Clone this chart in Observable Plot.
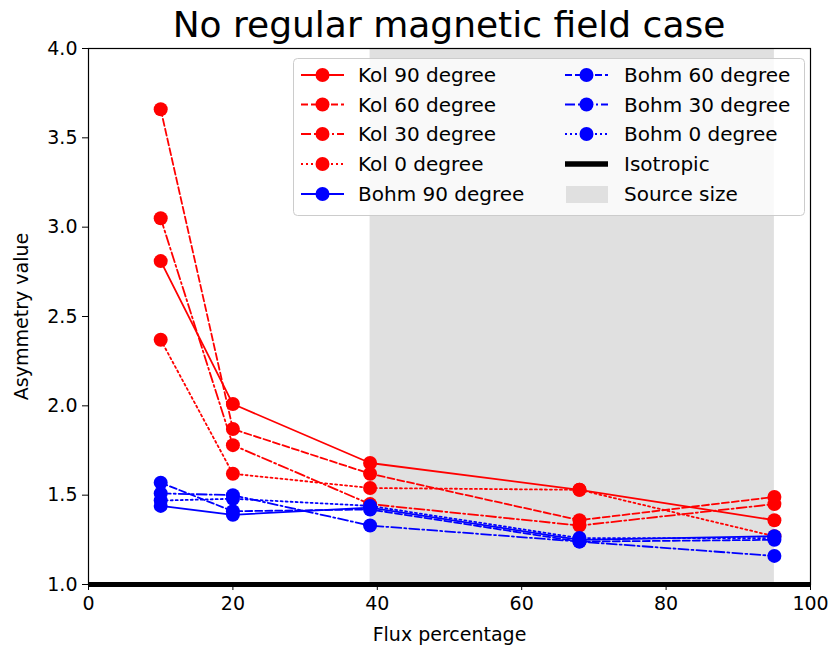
<!DOCTYPE html>
<html>
<head>
<meta charset="utf-8">
<script src="https://cdn.jsdelivr.net/npm/d3@7"></script>
<script src="https://cdn.jsdelivr.net/npm/@observablehq/plot@0.6"></script>
<style>
  body { margin: 0; background: #fff; font-family: "DejaVu Sans", sans-serif; }
  #wrap { position: relative; width: 833px; height: 650px; }
  #title { position: absolute; left: 0; top: 0; width: 898px; height: 30px; text-align: center; font-size: 36px; line-height: 50px; color: #000; z-index: 2; }
  #chart { position: absolute; left: 0; top: 30px; }
  #legend { position: absolute; left: 0; top: 0; }
</style>
</head>
<body>
<div id="wrap">
  <div id="title">No regular magnetic field case</div>
  <div id="chart"></div>
  <svg id="legend" width="833" height="650"></svg>
</div>
<script>
// ---- data ----
const flux = [10, 20, 39, 68, 95];
const kol90 = [2.81, 2.01, 1.68, 1.53, 1.36];
const kol60 = [3.66, 1.87, 1.62, 1.36, 1.49];
const kol30 = [3.05, 1.78, 1.45, 1.33, 1.45];
const kol0  = [2.37, 1.62, 1.54, 1.53, 1.27];
const bohm90 = [1.44, 1.39, 1.43, 1.25, 1.27];
const bohm60 = [1.57, 1.41, 1.42, 1.24, 1.25];
const bohm30 = [1.51, 1.50, 1.33, 1.24, 1.16];
const bohm0  = [1.47, 1.48, 1.44, 1.26, 1.26];
const seriesNames = ["Kol 90 degree", "Kol 60 degree", "Kol 30 degree", "Kol 0 degree",
                     "Bohm 90 degree", "Bohm 60 degree", "Bohm 30 degree", "Bohm 0 degree"];
const seriesValues = [kol90, kol60, kol30, kol0, bohm90, bohm60, bohm30, bohm0];
const sourceSize = [39, 95];
const isotropic = 1.0;
const xTicks = [0, 20, 40, 60, 80, 100];
const yTicks = [1.0, 1.5, 2.0, 2.5, 3.0, 3.5, 4.0];

// ---- styles ----
const RED = "#ff0000", BLUE = "#0000ff";
const colors = [RED, RED, RED, RED, BLUE, BLUE, BLUE, BLUE];
const DASH = { solid: null, dashed: "7,3", dashdot: "10,3,2,3", dotted: "2,3" };
const styles = ["solid", "dashed", "dashdot", "dotted", "solid", "dashed", "dashdot", "dotted"];

const series = seriesNames.map((name, i) => ({
  name, color: colors[i], dash: DASH[styles[i]],
  data: flux.map((x, j) => ({ x, y: seriesValues[i][j] }))
}));

const marks = [
  Plot.rect([{ x1: sourceSize[0], x2: sourceSize[1], y1: yTicks[0], y2: yTicks[yTicks.length - 1] }],
    { x1: "x1", x2: "x2", y1: "y1", y2: "y2", fill: "#e0e0e0" }),
];
series.forEach(s => {
  marks.push(Plot.line(s.data, { x: "x", y: "y", stroke: s.color, strokeWidth: 1.8, strokeDasharray: s.dash }));
  marks.push(Plot.dot(s.data, { x: "x", y: "y", r: 7, fill: s.color, stroke: null }));
});
marks.push(Plot.ruleY([isotropic], { stroke: "black", strokeWidth: 5 }));
marks.push(Plot.frame({ stroke: "black", strokeWidth: 1.2 }));
marks.push(Plot.axisX({ ticks: xTicks, tickSize: 6, tickPadding: 6, label: "Flux percentage",
  labelAnchor: "center", labelArrow: "none", labelOffset: 56 }));
marks.push(Plot.axisY({ ticks: yTicks, tickSize: 6, tickPadding: 5, tickFormat: d3.format(".1f"),
  label: "Asymmetry value", labelAnchor: "center", labelArrow: "none", labelOffset: 74 }));

const chart = Plot.plot({
  width: 833, height: 620,
  marginLeft: 88, marginRight: 23, marginTop: 18, marginBottom: 66,
  x: { domain: [0, 100] },
  y: { domain: [1, 4] },
  style: { fontFamily: "DejaVu Sans", fontSize: "19px", color: "#000", background: "transparent" },
  marks
});
document.getElementById("chart").appendChild(chart);

// ---- legend ----
const lg = d3.select("#legend");
lg.append("rect").attr("x", 293.5).attr("y", 58.5).attr("width", 511).attr("height", 157)
  .attr("rx", 4).attr("fill", "rgba(255,255,255,0.8)").attr("stroke", "#cccccc");
const rowsY = [75, 104.5, 134, 164, 194];
const legendItems = series.map(s => ({ name: s.name, color: s.color, dash: s.dash, kind: "series" }));
legendItems.push({ name: "Isotropic", kind: "iso" });
legendItems.push({ name: "Source size", kind: "src" });
legendItems.forEach((it, i) => {
  const col = i < 5 ? 0 : 1;
  const row = i < 5 ? i : i - 5;
  const y = rowsY[row];
  const hx0 = col === 0 ? 301 : 565, hx1 = hx0 + 43, tx = col === 0 ? 358 : 624;
  const g = lg.append("g");
  if (it.kind === "series") {
    g.append("line").attr("x1", hx0).attr("x2", hx1).attr("y1", y).attr("y2", y)
      .attr("stroke", it.color).attr("stroke-width", 1.8).attr("stroke-dasharray", it.dash);
    g.append("circle").attr("cx", (hx0 + hx1) / 2).attr("cy", y).attr("r", 7).attr("fill", it.color);
  } else if (it.kind === "iso") {
    g.append("line").attr("x1", hx0).attr("x2", hx1).attr("y1", y).attr("y2", y)
      .attr("stroke", "black").attr("stroke-width", 5.5);
  } else {
    g.append("rect").attr("x", hx0 + 1).attr("y", y - 8).attr("width", 42).attr("height", 17).attr("fill", "#e0e0e0");
  }
  g.append("text").attr("x", tx).attr("y", y).attr("dy", "0.35em")
    .attr("font-family", "DejaVu Sans").attr("font-size", 20).attr("fill", "#000").text(it.name);
});
</script>
</body>
</html>
